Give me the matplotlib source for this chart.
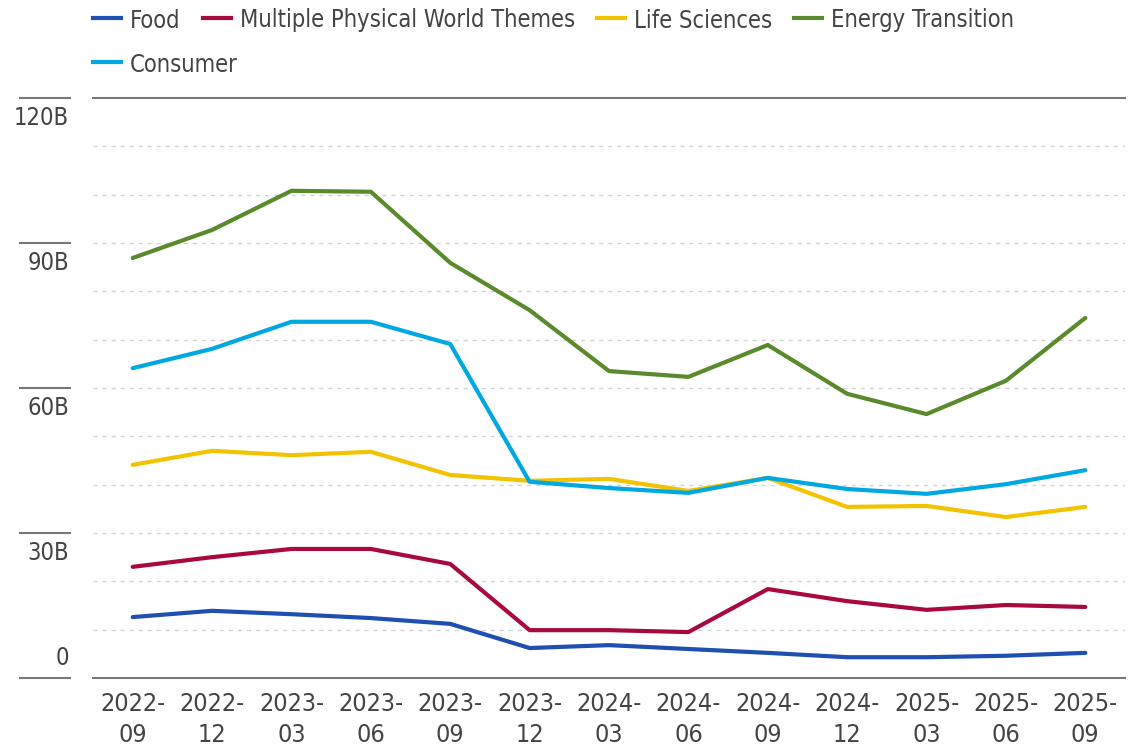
import numpy as np
import matplotlib
matplotlib.use("Agg")
import matplotlib.pyplot as plt
from matplotlib import font_manager

quarters = ["2022-09", "2022-12", "2023-03", "2023-06", "2023-09", "2023-12", "2024-03",
            "2024-06", "2024-09", "2024-12", "2025-03", "2025-06", "2025-09"]

food = [12.6, 13.9, 13.2, 12.4, 11.2, 6.2, 6.8, 6.0, 5.2, 4.3, 4.3, 4.6, 5.2]
physical = [23.0, 25.0, 26.7, 26.7, 23.6, 9.9, 9.9, 9.5, 18.4, 15.9, 14.1, 15.1, 14.7]
life_sci = [44.1, 47.0, 46.1, 46.8, 42.0, 40.8, 41.2, 38.7, 41.4, 35.4, 35.6, 33.3, 35.4]
energy = [86.9, 92.7, 100.8, 100.6, 85.9, 76.1, 63.5, 62.3, 68.9, 58.8, 54.6, 61.5, 74.5]
consumer = [64.1, 68.1, 73.7, 73.7, 69.1, 40.6, 39.3, 38.3, 41.4, 39.1, 38.1, 40.1, 43.0]

series = [("Food", food, "#1f4fb0"),
          ("Multiple Physical World Themes", physical, "#a8093e"),
          ("Life Sciences", life_sci, "#f2c300"),
          ("Energy Transition", energy, "#5a8a2c"),
          ("Consumer", consumer, "#00a8e1")]

y_ticks = [0, 30, 60, 90, 120]
y_labels = ["0", "30B", "60B", "90B", "120B"]

# look for a condensed face, otherwise fall back to Roboto
fonts = font_manager.fontManager.ttflist
cond = [f for f in fonts if f.name == "DejaVu Sans" and "ondensed" in str(f.stretch)
        or "Condensed" in f.fname or "Narrow" in f.name]
if cond:
    plt.rcParams['font.family'] = [cond[0].name, 'DejaVu Sans']
    plt.rcParams['font.stretch'] = cond[0].stretch
    fs_lab, fs_tick = 17, 18
else:
    plt.rcParams['font.family'] = ['Roboto', 'DejaVu Sans']
    fs_lab, fs_tick = 15.5, 16.5
txt = "#444444"

W, H = 1143, 754
fig = plt.figure(figsize=(W / 100, H / 100), dpi=100)
ax = fig.add_axes([93 / W, (H - 678) / H, (1125 - 93) / W, (678 - 98) / H])

x = np.arange(len(quarters))
for name, vals, col in series:
    ax.plot(x, vals, color=col, lw=3, label=name, solid_capstyle='round')

ax.set_xlim(-0.5, 12.5)
ax.set_ylim(0, 120)
for v in range(10, 120, 10):
    ax.axhline(v, color="#d4d4d4", lw=1, ls=(0, (3, 3.5)), zorder=0)

for s in ["left", "right"]:
    ax.spines[s].set_visible(False)
for s in ["top", "bottom"]:
    ax.spines[s].set_color("#777777")
    ax.spines[s].set_linewidth(1.5)

ax.set_yticks([])
ax.set_xticks(x)
ax.set_xticklabels([q.replace("-", "-\n") for q in quarters], fontsize=fs_tick, color=txt,
                   linespacing=1.35)
ax.tick_params(axis="x", length=0, pad=10)

# y labels with short rules on the left
for v, lab in zip(y_ticks, y_labels):
    yf = ((H - 678) + v / 120 * (678 - 98)) / H
    fig.add_artist(plt.Line2D([20 / W, 70 / W], [yf, yf], color="#777777", lw=1.5))
    if v == 0:
        fig.text(69 / W, yf + 8 / H, lab, ha="right", va="bottom", fontsize=fs_lab, color=txt)
    else:
        fig.text(69 / W, yf - 8 / H, lab, ha="right", va="top", fontsize=fs_lab, color=txt)

# legend laid out as flowing text: 4 entries on the first row, Consumer below
renderer = fig.canvas.get_renderer()
rows = [series[:4], series[4:]]
row_y = [18, 62]
for row, ry in zip(rows, row_y):
    xp = 93
    yf = 1 - ry / H
    for name, _, col in row:
        fig.add_artist(plt.Line2D([xp / W, (xp + 28) / W], [yf, yf], color=col, lw=3))
        t = fig.text((xp + 37) / W, yf, name, ha="left", va="center_baseline",
                     fontsize=fs_lab, color=txt)
        w = t.get_window_extent(renderer).width
        xp = xp + 37 + w + 22

fig.savefig("out.png", dpi=100)
